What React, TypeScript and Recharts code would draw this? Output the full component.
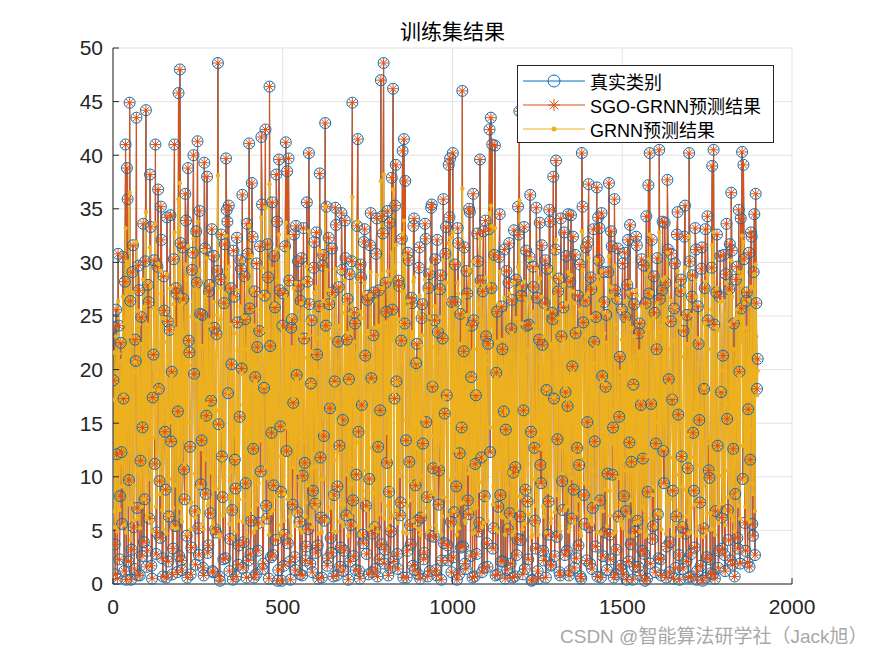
import { LineChart, Line, XAxis, YAxis, CartesianGrid } from 'recharts';

// training samples 1..1899; A holds samples 1,5,9,..., B holds 3,7,11,...
const sampleStep = 4;

const xTicks = [0, 500, 1000, 1500, 2000];
const yTicks = [0, 5, 10, 15, 20, 25, 30, 35, 40, 45, 50];

// 真实类别
const actualA = [
  19, 3.7, 25.6, 0.5, 24.1, 8.2, 12.3, 30.5, 1.2, 41, 38.8, 2.1, 44.9, 0.4, 29.1, 5.3, 22.8, 43.5, 0.8, 27.4, 11.5, 2.6, 33.6, 7.9, 44.2,
  3.1, 26.3, 38.2, 1.7, 17.4, 30.2, 41, 4.8, 36.8, 9.6, 35.2, 2.4, 28.7, 14.2, 0.6, 24.5, 6.3, 34.4, 19.8, 3.3, 41, 27.6, 1.1, 45.8, 48,
  2.2, 31.4, 10.7, 36.4, 4.5, 38.8, 21.6, 0.9, 29.3, 40, 6.8, 32.9, 41.3, 2.7, 25.2, 13.4, 1.5, 39.3, 8.4, 38, 3.6, 27.9, 17.1, 1.2, 30.6,
  5.1, 23.3, 48.6, 0.7, 28.4, 11.9, 2.3, 31.7, 39.7, 33.8, 35.3, 4.2, 20.5, 0.4, 26.8, 8.9, 32.3, 1.8, 15.6, 29.4, 36.3, 3.9, 24.7, 0.6, 30.8,
  41.1, 2.8, 37.4, 12.6, 27.3, 0.9, 22.1, 5.7, 31.5, 41.7, 1.4, 18.3, 42.4, 6.1, 28.6, 46.4, 2.5, 35.6, 9.2, 25.8, 38.2, 0.3, 39.6, 14.7, 0.3,
  27.1, 4.6, 41.2, 38.5, 39.7, 2.1, 23.9, 7.4, 32.6, 1.3, 19.5, 30.1, 5.8, 26.4, 0.8, 33.2, 11.3, 3.5, 28.2, 40.2, 1.9, 24.6, 8.7, 31.9, 2.9,
  21.4, 0.5, 38.3, 6.2, 29.7, 13.8, 43, 35.2, 2.4, 26.1, 4.3, 31.3, 0.7, 18.9, 33.5, 9.1, 27.7, 1.6, 34.6, 15.3, 3.1, 30.4, 22.8, 0.4, 28.9,
  5.5, 44.9, 2.6, 24.3, 10.2, 41.5, 1.2, 29.8, 16.7, 3.8, 33.1, 7.3, 26.5, 0.9, 31.6, 19.2, 4.7, 27.2, 1.4, 34.1, 12.8, 2.3, 47, 34.3, 48.6,
  3.2, 25.4, 34.8, 8.6, 1.5, 37.9, 46.2, 17.3, 39.1, 2.8, 28.3, 6.4, 22.7, 40.4, 41.5, 37.6, 0.6, 30.9, 11.4, 3.7, 26.2, 33.4, 1.3, 20.6, 5.9,
  29.5, 0.5, 24.8, 13.1, 2.9, 32.2, 8.1, 27.6, 1.2, 35.1, 18.4, 4.4, 30.3, 0.8, 23.5, 10.6, 28.8, 2.2, 35.9, 15.9, 33.3, 3.6, 39.1, 39.7, 1.1,
  40.2, 6.7, 26.3, 0.4, 31.8, 12.2, 3.4, 46, 21.7, 1.9, 29.2, 7.8, 35, 2.6, 24.1, 36.4, 0.7, 17.6, 32.7, 4.9, 39.6, 11.8, 27.3, 1.5, 33.9,
  3.8, 22.4, 42.4, 43.5, 41, 5.2, 40.9, 19.7, 0.9, 30.5, 8.3, 25.9, 2.1, 31.2, 14.4, 1.3, 28.1, 6.6, 23.8, 0.6, 33, 10.9, 2.7, 35.2, 44.1,
  4.1, 27.8, 16.2, 1.4, 31.1, 7.7, 24.2, 36.3, 0.3, 29.6, 12.7, 3.3, 26.7, 0.5, 33.7, 9.4, 22.3, 2.2, 30.2, 18.1, 4.6, 34.9, 1.7, 25.3, 38,
  2.6, 39.5, 13.5, 28.5, 0.8, 23.1, 6.9, 32.8, 17.9, 3.1, 34.5, 1.2, 34.4, 20.3, 8.8, 30.7, 2.4, 26.9, 11.1, 0.7, 40.2, 24.4, 5.6, 31.4, 15.1,
  37.3, 1.9, 27.5, 7.1, 22.6, 3.5, 37, 34.2, 33.2, 0.6, 19.4, 29.1, 4.8, 25.1, 10.3, 37.4, 2.3, 31.5, 14.6, 35.9, 0.9, 26.6, 6.3, 21.2, 1.4,
  29.9, 8.2, 24.9, 0.4, 32.1, 13.2, 3.7, 27.1, 18.6, 1.6, 32.4, 5.9, 23.4, 0.8, 30.3, 11.7, 2.8, 26.2, 0.5, 37.2, 40.2, 16.8, 4.2, 28.7, 1.1,
  21.9, 6.5, 40.5, 2.3, 27.4, 12.4, 33.7, 0.6, 37.7, 19.1, 3.9, 30.8, 8.7, 25.7, 1.5, 32.6, 15.8, 0.4, 28.4, 5.3, 23.6, 35.3, 2.1, 10.8, 40.2,
  0.7, 26.8, 14.1, 3.4, 31.2, 1.2, 22.4, 7.6, 29.4, 0.3, 18.2, 33.1, 2.5, 24.6, 9.9, 1.0, 39, 40.5, 0.5, 27.2, 12.9, 3.1, 30.6, 6.2, 21.3,
  2.7, 28.9, 15.4, 4.1, 31.7, 36.5, 1.8, 24.3, 8.4, 29.6, 3.3, 19.8, 34.1, 40.3, 39.1, 5.7, 26.4, 2.0, 30.9, 11.6, 32.4, 4.5, 34.5, 36.4, 18.2,
];

const actualB = [
  24.0, 0.9, 12.1, 30.8, 2.3, 22.5, 5.6, 17.3, 28.2, 0.4, 35.9, 9.7, 26.4, 3.2, 31.6, 1.4, 20.8, 7.1, 29.7, 0.8, 24.9, 14.6, 3.9, 30.1, 1.6,
  27.9, 6.1, 33.3, 0.5, 21.4, 11.2, 2.8, 29.6, 18.2, 4.3, 32.1, 0.7, 25.5, 8.8, 34.2, 2.1, 23.7, 13.3, 0.9, 30.3, 5.4, 27.1, 16.1, 2.6, 31.8,
  1.3, 26.6, 7.9, 33.9, 0.6, 22.7, 12.8, 3.4, 30.9, 19.6, 1.8, 28.1, 5.2, 34.8, 9.3, 25.1, 0.8, 31.3, 15.7, 2.9, 27.3, 6.6, 33.1, 1.1, 23.9,
  4.8, 29.2, 14.9, 0.3, 32.6, 8.1, 26.2, 2.4, 34.9, 17.8, 1.2, 27.6, 6.9, 31.1, 11.6, 0.7, 24.4, 3.6, 30.2, 20.1, 1.5, 28.7, 9.4, 33.6, 2.2,
  25.7, 5.9, 32.4, 0.6, 19.3, 29.9, 3.1, 23.6, 10.5, 35.4, 1.9, 26.9, 7.3, 31.7, 0.5, 22.2, 14.1, 2.7, 30.6, 4.1, 33.8, 1.3, 27.4, 8.6, 24.1,
  1.7, 31.5, 12.4, 3.8, 28.3, 0.4, 24.7, 16.9, 2.5, 33.4, 6.7, 27.8, 0.9, 30.4, 10.1, 22.9, 2.2, 35.6, 5.1, 26.1, 18.7, 1.1, 29.5, 7.5, 32.8,
  3.6, 25.9, 11.8, 0.6, 30.7, 5.9, 24.1, 1.7, 32.3, 16.4, 2.9, 27.2, 8.3, 35.1, 0.8, 22.6, 12.9, 3.4, 29.3, 1.2, 33.9, 6.4, 26.6, 19.1, 2.1,
  30.1, 7.8, 25.3, 1.3, 33.4, 14.2, 0.5, 28.6, 4.6, 31.9, 21.3, 2.8, 26.9, 9.8, 34.6, 1.1, 23.2, 5.3, 30.8, 0.7, 27.4, 16.2, 3.7, 32.7, 1.9,
  28.1, 11.3, 0.8, 33.7, 4.9, 25.6, 2.1, 35.3, 18.9, 1.4, 27.8, 7.6, 32.2, 0.6, 24.3, 13.4, 3.1, 30.2, 5.5, 26.7, 1.7, 34.1, 9.2, 22.4, 0.9,
  31.4, 6.2, 26.1, 2.3, 33.6, 15.1, 0.7, 28.9, 4.5, 35.4, 10.8, 24.6, 1.3, 32.1, 7.4, 27.5, 0.4, 22.9, 3.8, 30.8, 17.6, 2.2, 34.2, 5.8, 26.3,
  2.5, 29.8, 9.1, 33.2, 0.9, 25.2, 14.6, 3.5, 31.4, 1.4, 27.1, 6.5, 34.7, 19.3, 0.6, 24.6, 11.2, 2.8, 30.1, 5.7, 28.3, 1.1, 32.9, 8.2, 23.1,
  1.6, 33.1, 12.3, 27.6, 3.3, 30.7, 0.8, 25.4, 7.2, 34.5, 2.1, 21.9, 16.1, 0.5, 29.2, 5.1, 31.8, 1.9, 26.5, 10.4, 0.7, 28.4, 4.2, 32.6, 6.3,
  26.9, 0.9, 33.3, 8.8, 24.1, 2.3, 30.5, 14.2, 0.4, 27.7, 5.9, 35.1, 1.2, 22.8, 11.1, 31.6, 3.1, 26.2, 0.6, 29.4, 7.7, 33.8, 1.8, 24.7, 17.3,
  31.2, 4.4, 27.3, 1.1, 34.1, 9.6, 25.8, 2.7, 30.6, 16.6, 0.8, 28.2, 6.1, 32.4, 1.5, 23.4, 12.7, 3.6, 29.8, 0.5, 35.2, 8.3, 26.4, 2.2, 31.9,
  5.3, 28.6, 1.4, 33.1, 13.3, 24.9, 0.7, 30.2, 7.8, 34.6, 2.6, 26.3, 18.4, 1.3, 29.1, 4.6, 32.9, 10.2, 0.6, 27.4, 3.2, 31.3, 15.6, 1.7, 25.6,
  0.9, 30.9, 6.8, 27.9, 2.1, 33.5, 11.4, 0.4, 26.1, 4.9, 31.6, 1.6, 24.3, 16.7, 3.1, 29.7, 0.3, 34.3, 8.6, 27.1, 1.9, 32.1, 5.4, 25.3, 13.1,
  30.4, 2.4, 26.6, 0.8, 33.8, 9.4, 28.1, 3.5, 31.2, 1.1, 24.5, 17.2, 0.5, 29.9, 6.3, 34.7, 2.7, 27.3, 11.9, 1.4, 32.4, 4.7, 25.1, 0.6, 30.1,
  2.8, 28.8, 8.7, 33.2, 0.4, 25.9, 15.3, 1.7, 31.4, 5.2, 27.6, 0.6, 34.3, 10.6, 2.3, 29.5, 0.9, 24.2, 6.8, 32.6, 1.5, 26.8, 17.9, 3.3, 30.7,
  1.2, 33.6, 6.9, 27.5, 2.2, 31.1, 12.6, 0.7, 28.4, 4.3, 34.9, 1.9, 25.7, 9.8, 30.3, 3.1, 27.2, 16.3, 1.6, 32.8, 5.6, 29.1, 2.7, 26.2, 21,
];

// SGO-GRNN预测结果: lands on the true values everywhere in the figure
const sgoA = actualA;
const sgoB = actualB;

// GRNN预测结果
const grnnA = [
  17.2, 6.8, 23.1, 4.9, 21.5, 11.3, 14.6, 26.8, 5.5, 33.2, 30.1, 7.4, 36.5, 4.1, 25.3, 9.2, 20.7, 31.9, 6.1, 24.2, 13.9, 7.2, 28.4, 10.8, 34.7,
  6.5, 22.9, 31.4, 5.8, 18.1, 25.7, 33.6, 8.3, 29.9, 12.4, 29.2, 6.9, 24.8, 15.5, 4.7, 21.3, 9.8, 27.6, 19.4, 7.1, 32.8, 23.5, 5.2, 35.9, 37.4,
  6.3, 26.2, 13.7, 29.8, 8.6, 31.5, 20.4, 5.1, 24.9, 32.2, 10.3, 27.5, 33.8, 6.7, 22.1, 15.2, 5.6, 31.1, 11.6, 30.4, 7.5, 24.6, 17.8, 4.9, 26.3,
  8.9, 21.2, 38.1, 4.6, 24.7, 14.3, 6.4, 27.1, 32.5, 28.3, 29.6, 8.1, 19.6, 4.3, 23.4, 11.8, 27.4, 5.9, 16.7, 25.2, 30.1, 7.8, 21.9, 4.5, 26.5,
  33.4, 6.9, 30.6, 15.1, 24.1, 5.2, 20.2, 9.4, 26.9, 34.2, 5.5, 18.5, 35.1, 9.9, 24.8, 37.3, 6.6, 29.4, 12.5, 22.8, 31.2, 4.4, 32.6, 16.3, 4.8,
  23.6, 8.4, 33.7, 31.2, 32.4, 6.3, 21.5, 10.9, 27.6, 5.4, 19.1, 25.8, 9.6, 23.1, 4.8, 28.2, 14.1, 7.6, 24.5, 32.9, 5.9, 21.7, 12.1, 27.2, 7.1,
  19.8, 4.7, 31.1, 9.8, 25.5, 15.6, 35.2, 29.3, 6.8, 22.9, 8.2, 26.7, 4.9, 18.6, 28.4, 12.3, 24.1, 5.8, 29.1, 16.4, 7.4, 26.1, 20.9, 4.5, 25.2,
  9.3, 36.1, 6.7, 21.6, 13.2, 33.8, 5.3, 25.4, 17.2, 7.9, 28.1, 10.6, 23.3, 5.1, 26.9, 18.8, 8.5, 23.9, 5.6, 28.8, 14.9, 6.5, 37.6, 28.9, 38.2,
  7.3, 22.6, 29.2, 11.7, 5.8, 30.9, 36.8, 17.9, 31.6, 6.9, 24.7, 10.1, 20.8, 32.7, 33.9, 30.6, 4.7, 26.4, 14.2, 7.8, 23.1, 28.2, 5.4, 19.5, 9.6,
  25.3, 4.6, 22.2, 15.4, 7.1, 27.3, 11.5, 24.3, 5.3, 29.5, 18.7, 8.4, 25.9, 4.9, 21.1, 13.6, 24.9, 6.3, 30.2, 17.3, 28.1, 7.7, 31.8, 32.3, 5.2,
  32.8, 10.2, 23.2, 4.6, 27.1, 14.8, 7.5, 36.9, 20.3, 5.9, 25.1, 11.3, 29.4, 6.8, 21.6, 30.1, 4.8, 17.9, 27.8, 8.7, 32.2, 14.5, 23.8, 5.7, 28.6,
  7.9, 20.5, 34.6, 35.3, 33.4, 9.1, 33.2, 19.2, 4.9, 26.1, 11.9, 22.8, 6.2, 26.7, 16.1, 5.4, 24.6, 10.4, 21.3, 4.6, 28.1, 13.7, 6.9, 29.6, 35.8,
  8.1, 24.3, 17.1, 5.6, 26.6, 11.2, 21.8, 30.3, 4.4, 25.4, 15.1, 7.3, 23.5, 4.6, 28.5, 12.6, 20.4, 6.3, 25.8, 18.2, 8.6, 29.3, 5.7, 22.4, 31.1,
  6.7, 32.1, 15.8, 24.8, 4.9, 21.1, 10.3, 27.9, 18.3, 7.2, 29.1, 5.3, 28.8, 19.7, 12.1, 26.2, 6.6, 23.7, 14.2, 4.8, 32.9, 21.8, 9.4, 26.8, 16.5,
  30.4, 5.9, 24.2, 10.5, 20.6, 7.6, 30.2, 28.7, 28.1, 4.7, 18.9, 25.3, 8.8, 22.5, 13.4, 30.6, 6.4, 26.9, 16.2, 29.7, 4.9, 23.4, 9.9, 19.8, 5.5,
  25.6, 11.6, 22.1, 4.5, 27.2, 15.1, 7.8, 23.9, 18.4, 5.7, 27.4, 9.6, 21.3, 4.9, 25.9, 14.3, 6.9, 23.2, 4.6, 30.3, 32.6, 17.4, 8.3, 24.8, 5.3,
  20.1, 10.1, 32.8, 6.5, 24.1, 14.9, 28.6, 4.7, 30.9, 18.6, 7.9, 26.4, 11.8, 22.7, 5.6, 27.9, 16.7, 4.5, 24.8, 9.1, 21.2, 29.5, 6.3, 13.9, 32.4,
  4.8, 23.6, 15.9, 7.4, 26.8, 5.3, 20.5, 11.1, 25.2, 4.4, 18.3, 28.2, 6.6, 21.9, 13.1, 5.1, 31.6, 32.8, 4.6, 23.9, 15.2, 7.2, 26.3, 10.1, 19.9,
  6.8, 25.1, 16.8, 8.1, 27.1, 30.2, 5.9, 21.9, 11.9, 25.6, 7.3, 19.4, 28.7, 32.5, 31.9, 9.7, 23.2, 6.1, 26.5, 14.3, 27.6, 8.4, 28.9, 29.8, 17.6,
];

const grnnB = [
  21.6, 5.3, 14.2, 26.4, 6.9, 20.8, 9.1, 17.6, 24.3, 4.8, 29.7, 12.5, 23.1, 7.4, 27.2, 5.9, 19.8, 10.6, 25.5, 5.2, 22.4, 15.8, 7.9, 25.9, 6.1,
  24.2, 9.8, 27.8, 4.9, 20.1, 13.7, 7.2, 25.3, 18.1, 8.4, 27.1, 5.1, 22.6, 11.9, 28.9, 6.4, 21.2, 15.1, 5.3, 26.1, 9.2, 23.8, 16.9, 7.1, 26.9,
  5.8, 23.4, 11.2, 28.4, 4.7, 20.9, 15.1, 7.6, 26.4, 18.9, 6.2, 24.6, 9.1, 29.3, 12.6, 22.2, 5.1, 26.8, 16.8, 7.3, 24.1, 10.4, 27.9, 5.6, 21.6,
  8.9, 25.1, 16.2, 4.4, 27.6, 11.6, 23.1, 6.8, 29.1, 17.9, 5.6, 24.2, 10.5, 26.7, 14.1, 4.9, 21.8, 7.9, 25.9, 19.6, 5.8, 24.9, 12.3, 28.1, 6.5,
  22.8, 9.9, 27.4, 4.8, 18.9, 25.6, 7.4, 21.3, 13.4, 29.5, 6.1, 23.7, 10.9, 26.9, 4.6, 20.6, 15.7, 6.9, 26.1, 8.2, 28.3, 5.5, 24.1, 11.9, 21.7,
  5.9, 26.8, 14.6, 7.9, 24.7, 4.5, 22.1, 17.3, 6.7, 28.1, 10.4, 24.3, 5.1, 26.2, 13.3, 21.1, 6.3, 29.6, 9.2, 23.2, 18.6, 5.3, 25.4, 10.9, 27.7,
  7.7, 22.9, 14.3, 4.8, 26.4, 9.8, 21.8, 5.9, 27.4, 17.1, 7.1, 23.9, 11.6, 29.4, 4.9, 20.7, 15.2, 7.5, 25.3, 5.4, 28.3, 10.2, 23.4, 18.8, 6.3,
  25.9, 11.2, 22.6, 5.5, 28.1, 15.9, 4.6, 24.8, 8.7, 27.1, 20.4, 6.9, 23.6, 12.7, 29.1, 5.3, 21.4, 9.3, 26.4, 4.9, 24.1, 17.1, 7.8, 27.6, 6.1,
  24.4, 14.1, 5.2, 28.4, 8.9, 22.7, 6.4, 29.6, 18.8, 5.7, 24.2, 10.9, 27.3, 4.8, 21.9, 15.3, 7.3, 25.9, 9.6, 23.5, 5.9, 28.6, 12.6, 20.8, 5.1,
  26.9, 10.1, 23.2, 6.5, 28.4, 16.4, 4.9, 24.9, 8.6, 29.7, 13.8, 22.1, 5.5, 27.3, 11.2, 24.1, 4.6, 21.1, 8.1, 26.5, 17.9, 6.4, 28.9, 9.7, 23.1,
  6.8, 25.7, 12.4, 28.1, 5.2, 22.4, 16.1, 7.6, 26.8, 5.7, 23.9, 10.3, 29.2, 19.1, 4.7, 21.9, 14.2, 7.1, 26.1, 9.5, 24.6, 5.3, 27.8, 11.8, 21.2,
  5.9, 27.9, 14.6, 24.1, 7.4, 26.3, 5.1, 22.6, 10.8, 29.1, 6.3, 20.4, 16.9, 4.6, 25.2, 8.9, 27.1, 6.1, 23.4, 13.2, 4.9, 24.8, 8.2, 27.6, 10.1,
  23.6, 5.1, 28.2, 12.1, 21.7, 6.5, 26.3, 15.8, 4.6, 24.1, 9.8, 29.4, 5.4, 20.9, 13.9, 26.8, 7.2, 23.1, 4.8, 25.3, 11.1, 28.6, 6.1, 22.2, 17.4,
  26.8, 8.3, 23.9, 5.4, 28.6, 12.8, 22.7, 6.9, 26.2, 17.2, 4.9, 24.7, 9.9, 27.3, 5.7, 21.4, 15.1, 7.8, 25.6, 4.5, 29.3, 11.7, 23.2, 6.4, 27.1,
  9.4, 24.9, 5.6, 27.9, 15.4, 22.1, 4.8, 26.1, 11.3, 29.2, 6.8, 23.4, 18.6, 5.4, 25.1, 8.7, 27.7, 13.1, 4.7, 24.2, 7.4, 26.6, 16.8, 5.9, 22.8,
  5.2, 26.4, 10.6, 24.4, 6.3, 28.2, 14.2, 4.5, 23.1, 8.9, 26.9, 5.8, 21.7, 17.3, 7.2, 25.6, 4.4, 28.9, 11.9, 23.8, 6.1, 27.2, 9.1, 22.6, 15.1,
  26.2, 6.6, 23.5, 5.1, 28.4, 12.7, 24.6, 7.6, 26.7, 5.4, 21.9, 17.5, 4.6, 25.8, 10.2, 29.2, 6.9, 23.9, 14.6, 5.6, 27.4, 8.8, 22.4, 4.7, 25.9,
  7.1, 25.1, 11.8, 28.3, 4.5, 22.9, 16.2, 5.8, 26.9, 9.2, 24.3, 4.8, 28.8, 13.6, 6.6, 25.6, 5.1, 21.8, 10.4, 27.6, 5.7, 23.7, 18.2, 7.5, 26.4,
  5.5, 28.1, 10.6, 24.2, 6.4, 26.8, 14.9, 4.9, 24.8, 8.3, 29.1, 6.1, 22.7, 12.9, 26.2, 7.2, 23.9, 17.1, 5.8, 27.7, 9.4, 25.3, 6.8, 23.1, 19.9,
];

const data = actualA.flatMap((v, i) => [
  { x: 1 + i * sampleStep, actual: v, sgo: sgoA[i], grnn: grnnA[i] },
  { x: 3 + i * sampleStep, actual: actualB[i], sgo: sgoB[i], grnn: grnnB[i] },
]);

const BLUE = '#0072BD';
const ORANGE = '#D95319';
const YELLOW = '#EDB120';
const AXIS = '#262626';
const FONT = '"Liberation Sans", Arial, "Noto Sans CJK SC", sans-serif';

function starPath(cx: number, cy: number, r: number) {
  const d = r * 0.707;
  return `M${cx - r},${cy}H${cx + r}M${cx},${cy - r}V${cy + r}M${cx - d},${cy - d}L${cx + d},${cy + d}M${cx - d},${cy + d}L${cx + d},${cy - d}`;
}

const StarDot = (props: any) => {
  const { cx, cy, index } = props;
  if (cx == null || cy == null) return <g key={`st-${index}`} />;
  return <path key={`st-${index}`} d={starPath(cx, cy, 5)} stroke={ORANGE} strokeWidth={1} fill="none" />;
};

const legendRows = [
  { label: '真实类别', kind: 'circle', color: BLUE },
  { label: 'SGO-GRNN预测结果', kind: 'star', color: ORANGE },
  { label: 'GRNN预测结果', kind: 'dot', color: YELLOW },
];

const LegendBox = () => (
  <div
    style={{
      position: 'absolute', left: 517, top: 65, width: 255, height: 76,
      border: `1px solid ${AXIS}`, background: '#fff', fontFamily: FONT, fontSize: 18, color: '#000',
    }}
  >
    {legendRows.map((r) => (
      <div key={r.label} style={{ display: 'flex', alignItems: 'center', height: 24, marginTop: r.kind === 'circle' ? 3 : 0 }}>
        <svg width={72} height={24} style={{ flex: 'none' }}>
          <line x1={5} x2={67} y1={12} y2={12} stroke={r.color} strokeWidth={1} />
          {r.kind === 'circle' && <circle cx={36} cy={12} r={6} stroke={r.color} fill="none" />}
          {r.kind === 'star' && <path d={starPath(36, 12, 6)} stroke={r.color} fill="none" />}
          {r.kind === 'dot' && <circle cx={36} cy={12} r={2.5} fill={r.color} />}
        </svg>
        <span style={{ whiteSpace: 'nowrap' }}>{r.label}</span>
      </div>
    ))}
  </div>
);

export default function App() {
  return (
    <div style={{ position: 'absolute', left: 0, top: 0, width: 875, height: 656, background: '#fff' }}>
      <div
        style={{
          position: 'absolute', left: 113, width: 679, top: 21, lineHeight: '21px',
          textAlign: 'center', fontFamily: FONT, fontSize: 21, color: '#000',
        }}
      >
        训练集结果
      </div>
      <LineChart width={875} height={656} data={data} margin={{ top: 48, right: 83, bottom: 32, left: 53 }}>
        <CartesianGrid stroke="#e3e3e3" strokeWidth={1} />
        <XAxis
          dataKey="x"
          type="number"
          domain={[0, 2000]}
          ticks={xTicks}
          height={40}
          stroke={AXIS}
          tickSize={-6}
          tickMargin={21}
          tick={{ fill: AXIS, fontSize: 21, fontFamily: FONT }}
          allowDataOverflow
        />
        <XAxis xAxisId="top" orientation="top" type="number" domain={[0, 2000]} ticks={xTicks} height={0} stroke={AXIS} tickSize={-6} tick={false} />
        <YAxis
          type="number"
          domain={[0, 50]}
          ticks={yTicks}
          width={60}
          stroke={AXIS}
          tickSize={-6}
          tickMargin={16}
          tick={{ fill: AXIS, fontSize: 21, fontFamily: FONT }}
        />
        <YAxis yAxisId="right" orientation="right" type="number" domain={[0, 50]} ticks={yTicks} width={0} stroke={AXIS} tickSize={-6} tick={false} />
        <Line
          dataKey="actual"
          stroke={BLUE}
          strokeWidth={1}
          dot={{ r: 5.5, stroke: BLUE, strokeWidth: 1, fill: 'none' }}
          isAnimationActive={false}
        />
        <Line dataKey="sgo" stroke={ORANGE} strokeWidth={1.2} dot={StarDot} isAnimationActive={false} />
        <Line
          dataKey="grnn"
          stroke={YELLOW}
          strokeWidth={1.5}
          dot={{ r: 2.2, stroke: 'none', fill: YELLOW }}
          isAnimationActive={false}
        />
      </LineChart>
      <LegendBox />
      <div
        style={{
          position: 'absolute', left: 560, top: 626, lineHeight: '22px',
          fontFamily: FONT, fontSize: 19, color: '#a8a8a8', whiteSpace: 'nowrap',
        }}
      >
        CSDN @智能算法研学社（Jack旭）
      </div>
    </div>
  );
}
